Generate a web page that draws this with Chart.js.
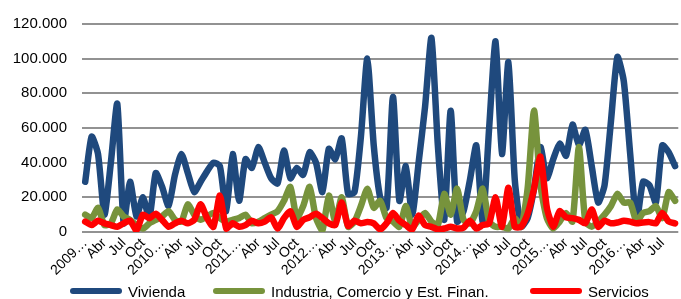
<!DOCTYPE html>
<html>
<head>
<meta charset="utf-8">
<script src="https://cdn.jsdelivr.net/npm/chart.js@4.4.0/dist/chart.umd.min.js"></script>
<style>
    html, body { margin: 0; padding: 0; background: #fff; overflow: hidden; }
    #wrap { position: relative; width: 681px; height: 299px; overflow: hidden; }
    #chart { position: absolute; left: 0; top: 0; }
    #legend { position: absolute; left: 0; top: 282px; width: 681px; height: 18px; }
    #legend .item { position: absolute; top: 0; height: 18px; display: flex; align-items: center; white-space: nowrap;
                    font: 15px 'Liberation Sans', Arial, sans-serif; color: #000; }
    #legend .swatch { display: inline-block; width: 52px; height: 6.5px; border-radius: 3.25px; margin-right: 6px; }
</style>
</head>
<body>
<div id="wrap">
    <canvas id="chart" width="690" height="299"></canvas>
    <div id="legend"></div>
</div>
<script>
// Monthly series, Jan 2009 - Sep 2016 (the picture is cropped on the right)
const years = [2009, 2010, 2011, 2012, 2013, 2014, 2015, 2016];
const months = ['Ene', 'Feb', 'Mar', 'Abr', 'May', 'Jun', 'Jul', 'Ago', 'Sep', 'Oct', 'Nov', 'Dic'];
const nMonths = 93;

const vivienda = [
    29000, 55000, 45000, 10000, 40000, 74000, 5000, 29000, 9000, 20000, 8000, 34000,
    26000, 15000, 33000, 45000, 34000, 23000, 29000, 35000, 40000, 38000, 12000, 45000,
    18000, 42000, 37000, 49000, 40000, 31000, 28000, 47000, 31000, 37000, 33000, 46000,
    40000, 23000, 48000, 42000, 54000, 22000, 23000, 55000, 100000, 50000, 20000, 14000,
    78000, 18000, 38000, 10000, 40000, 72000, 112000, 50000, 7000, 70000, 6000, 12000,
    30000, 50000, 6000, 60000, 110000, 45000, 98000, 30000, 3000, 8000, 25000, 49000,
    31000, 42000, 51000, 44000, 62000, 50000, 59000, 38000, 17000, 27000, 64000, 101000,
    87000, 45000, 6000, 29000, 27000, 17000, 50000, 46000, 38000
];
const industria = [
    10000, 8000, 14000, 4000, 5000, 13000, 9000, 7000, 4000, 2000, 5000, 7000,
    9000, 12000, 7000, 6000, 16000, 10000, 7000, 9000, 11000, 8000, 6000, 7000,
    8000, 10000, 5000, 6000, 8000, 10000, 12000, 18000, 26000, 8000, 15000, 26000,
    8000, 1000, 21000, 6000, 20000, 3000, 6000, 15000, 25000, 14000, 18000, 8000,
    6000, 3000, 15000, 3000, 7000, 11000, 6000, 4000, 22000, 10000, 25000, 7000,
    5000, 12000, 25000, 6000, 3000, 3000, 2000, 8000, 3000, 25000, 70000, 27000,
    8000, 2000, 6000, 11000, 6000, 49000, 6000, 3000, 6000, 10000, 15000, 22000,
    17000, 17000, 6000, 11000, 12000, 15000, 8000, 23000, 18000
];
const servicios = [
    6000, 4000, 6500, 5000, 4000, 3000, 5000, 6500, 1000, 10000, 8000, 10500,
    7000, 3000, 5000, 6500, 5000, 7000, 16000, 8000, 3000, 21000, 2000, 5000,
    3000, 4000, 6500, 5000, 6000, 8500, 2000, 8000, 12000, 3000, 7000, 8500,
    10500, 8000, 5000, 4000, 17000, 3500, 6500, 5000, 5700, 5000, 1500, 5000,
    11000, 6500, 4000, 1500, 9500, 4000, 3000, 1500, 2000, 3000, 2000, 2500,
    6500, 2000, 4000, 5000, 20000, 3000, 25500, 3000, 3000, 10500, 25000, 43500,
    14000, 3000, 12000, 8500, 8000, 7000, 5000, 13000, 3000, 6500, 5000, 5500,
    6500, 6000, 5000, 5500, 5700, 5000, 11000, 6000, 5000
];

// Category labels: one every quarter, January shown as a truncated year
const labels = [];
for (let i = 0; i < nMonths; i++) {
    const m = i % 12;
    const y = years[Math.floor(i / 12)];
    if (m === 0) labels.push(y + '\u2026');
    else if (m % 3 === 0) labels.push(months[m]);
    else labels.push('');
}

const font = "'Liberation Sans', Arial, sans-serif";

function lineSet(label, data, color, order) {
    return {
        label: label,
        data: data,
        borderColor: color,
        backgroundColor: color,
        borderWidth: 6.5,
        borderCapStyle: 'round',
        borderJoinStyle: 'round',
        pointRadius: 0,
        tension: 0.2,
        order: order   // red on top, blue at the back
    };
}

const chart = new Chart(document.getElementById('chart'), {
    type: 'line',
    data: {
        labels: labels,
        datasets: [
            lineSet('Vivienda', vivienda, '#1f497d', 3),
            lineSet('Industria, Comercio y Est. Finan.', industria, '#77933c', 2),
            lineSet('Servicios', servicios, '#ff0000', 1)
        ]
    },
    options: {
        responsive: false,
        animation: false,
        layout: { padding: { left: 0, right: 7, top: 20, bottom: 20 } },
        plugins: {
            tooltip: { enabled: false },
            legend: { display: false }
        },
        scales: {
            x: {
                offset: true,
                grid: { display: false, drawTicks: false },
                border: { display: false },
                ticks: {
                    autoSkip: false,
                    minRotation: 45,
                    maxRotation: 45,
                    padding: 3,
                    color: '#000',
                    font: { family: font, size: 14 }
                },
                afterFit: function(scale) { scale.height = 47; }
            },
            y: {
                min: 0,
                max: 120000,
                grid: { color: '#929292', lineWidth: 2, drawTicks: false },
                border: { display: false },
                ticks: {
                    stepSize: 20000,
                    padding: 15,
                    color: '#000',
                    font: { family: font, size: 15 },
                    callback: v => String(v).replace(/\B(?=(\d{3})+(?!\d))/g, '.')
                },
                afterFit: function(scale) { scale.width = 82; }
            }
        }
    }
});

// Legend in HTML so the items can sit where the original has them
const legendLeft = [70, 213, 530];
const legendEl = document.getElementById('legend');
chart.data.datasets.forEach((ds, i) => {
    const item = document.createElement('div');
    item.className = 'item';
    item.style.left = legendLeft[i] + 'px';
    const sw = document.createElement('span');
    sw.className = 'swatch';
    sw.style.background = ds.borderColor;
    const txt = document.createElement('span');
    txt.textContent = ds.label;
    item.appendChild(sw);
    item.appendChild(txt);
    legendEl.appendChild(item);
});
</script>
</body>
</html>
